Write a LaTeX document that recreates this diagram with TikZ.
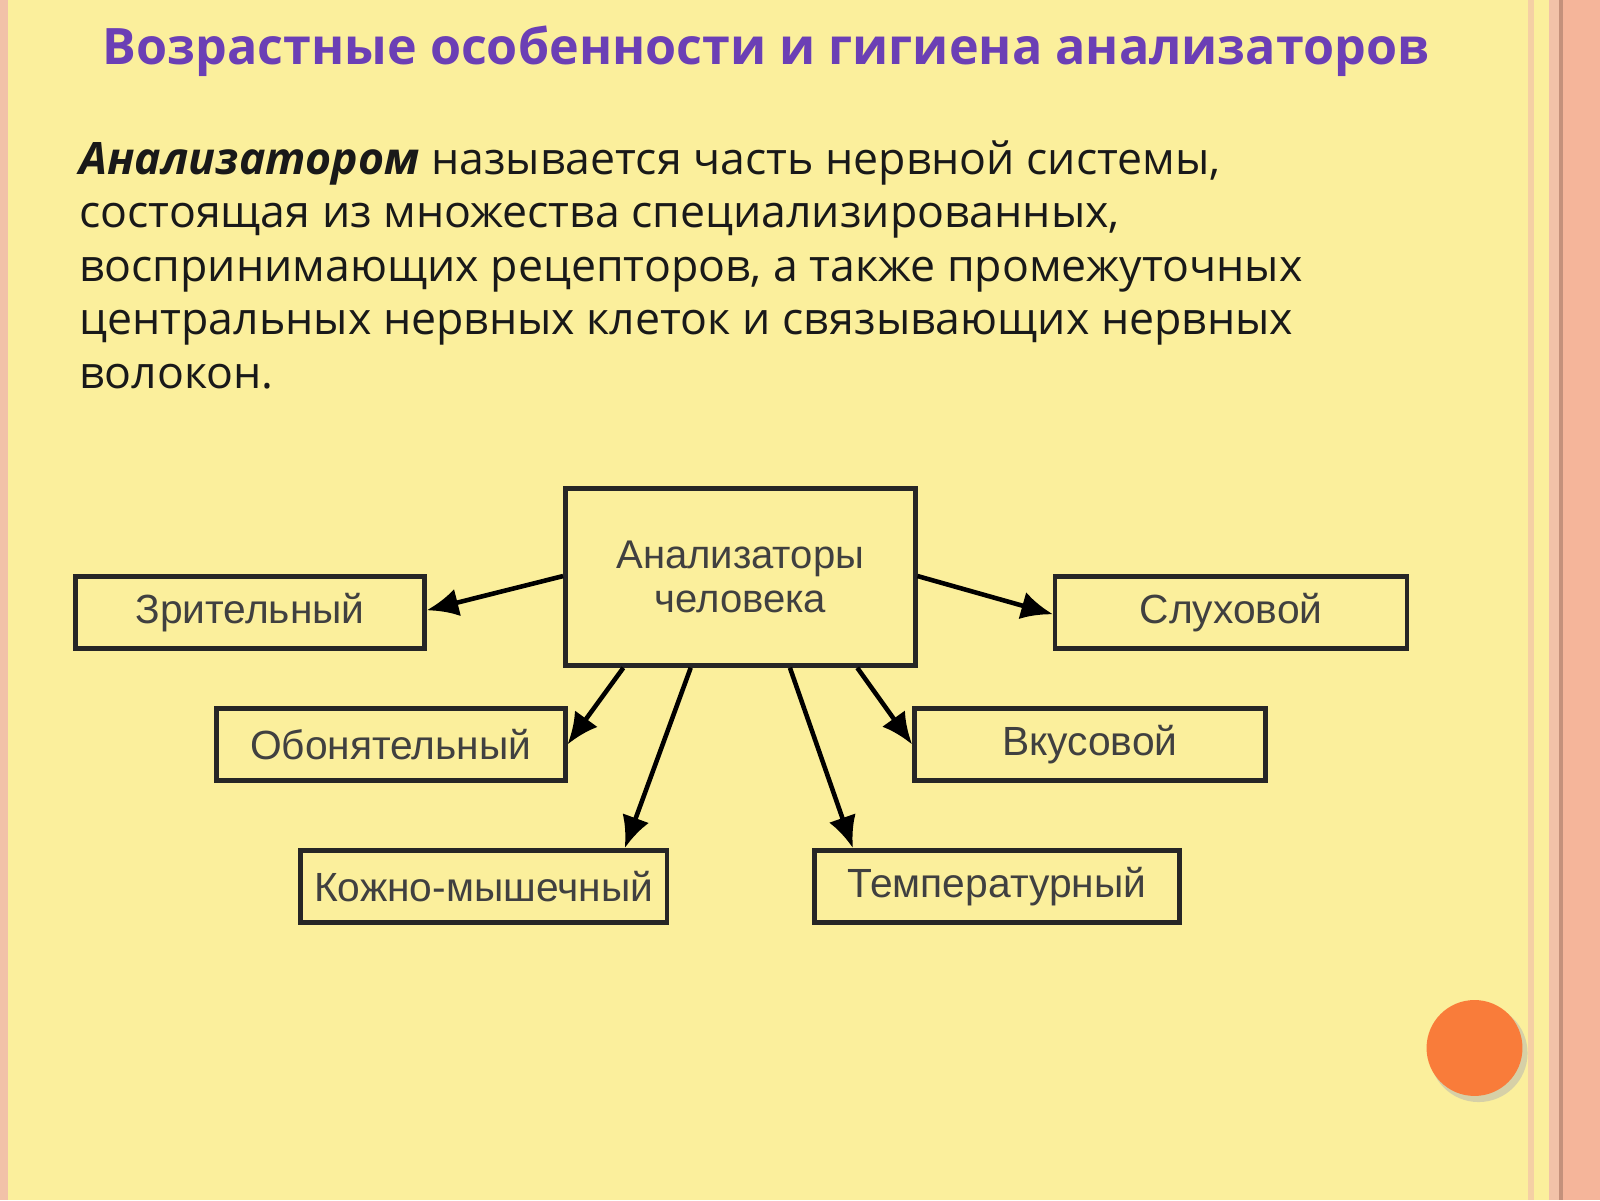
\documentclass[tikz,border=0pt]{standalone}
\usepackage{fontspec}
\setmainfont{Open Sans}
\newfontfamily\boxfont{Liberation Sans}
\usetikzlibrary{arrows.meta,calc,positioning}
\definecolor{bgyellow}{HTML}{FBEF9C}
\definecolor{titlepurple}{HTML}{6B3FB5}
\definecolor{salmon}{HTML}{F5B59A}
\definecolor{edgepink}{HTML}{F2C2A8}
\definecolor{dotorange}{HTML}{F97C3A}
\tikzset{
	analyser/.style={draw=black!85, line width=1.3pt, minimum height=0.72cm,
		inner sep=0pt, font=\boxfont\fontsize{11.6}{13}\selectfont, text=black!75},
	link/.style={line width=1.3pt, -{Latex[length=9pt,width=8pt]}},
}
\begin{document}
\begin{tikzpicture}[x=0.010204cm, y=-0.010204cm]
			\useasboundingbox (0,0) rectangle (1568,1176);
			% Slide background
			\fill [bgyellow] (0,0) rectangle (1568,1176);
			\fill [edgepink] (0,0) rectangle (8,1176);
			\fill [edgepink!70!bgyellow] (1497,0) rectangle (1503,1176);
			\fill [edgepink] (1518,0) rectangle (1530,1176);
			\fill [salmon] (1530,0) rectangle (1568,1176);
			\draw [salmon!80!black, line width=1pt] (1530,0) -- (1530,1176);
			% Title and definition
			\node [font=\bfseries\fontsize{14.3}{17}\selectfont, text=titlepurple] (title) at (751,50) {Возрастные особенности и гигиена анализаторов};
			\node [anchor=north west, align=left, inner sep=0pt, font=\fontsize{12.7}{15.25}\selectfont, text=black!90] (definition) at (77,137)
				{\textbf{\textit{Анализатором}} называется часть нервной системы,\\
				состоящая из множества специализированных,\\
				воспринимающих рецепторов, а также промежуточных\\
				центральных нервных клеток и связывающих нервных\\
				волокон.};
			% Central box
			\node [analyser, minimum width=3.5cm, minimum height=1.77cm, align=center,
				font=\boxfont\fontsize{11.4}{12.5}\selectfont] (human) at (725.5,565.5) {Анализаторы\\человека};
			% Analysers
			\node [analyser, minimum width=3.49cm] (visual) at (245,600) {Зрительный};
			\node [analyser, minimum width=3.52cm] (hearing) at (1206.5,600) {Слуховой};
			\node [analyser, minimum width=3.49cm] (smell) at (383,729.5) {Обонятельный};
			\node [analyser, minimum width=3.51cm] (taste) at (1068,729.5) {Вкусовой};
			\node [analyser, minimum width=3.67cm] (skin) at (474,868.5) {Кожно-мышечный};
			\node [analyser, minimum width=3.65cm] (heat) at (977,868.5) {Температурный};
			% Arrows
			\draw [link] ([yshift=0.01cm]human.west) -- ([yshift=0.02cm]visual.east);
			\draw [link] ([yshift=0.01cm]human.east) -- ([yshift=-0.02cm]hearing.west);
			\draw [link] ($(human.south west)!0.17!(human.south east)$) -- (smell.east);
			\draw [link] ($(human.south west)!0.83!(human.south east)$) -- (taste.west);
			\draw [link] ($(human.south west)!0.36!(human.south east)$) -- ($(skin.north west)!0.88!(skin.north east)$);
			\draw [link] ($(human.south west)!0.64!(human.south east)$) -- ($(heat.north west)!0.11!(heat.north east)$);
			% Orange dot
			\fill [black!30, opacity=0.5] (1449,1032) circle (48);
			\fill [dotorange] (1445,1027) circle (47);
\end{tikzpicture}
\end{document}
